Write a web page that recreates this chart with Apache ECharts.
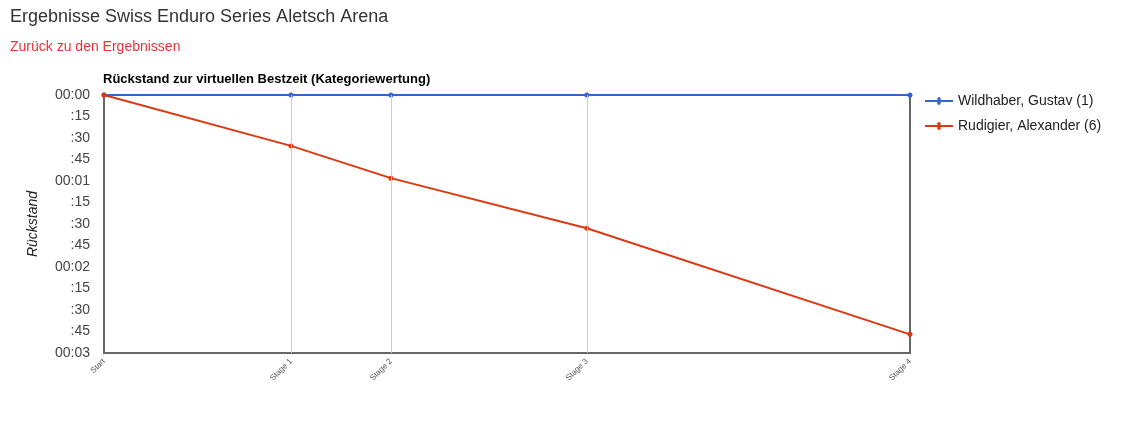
<!DOCTYPE html>
<html>
<head>
<meta charset="utf-8">
<script src="https://cdn.jsdelivr.net/npm/echarts@6/dist/echarts.min.js"></script>
<style>
  html, body { margin: 0; padding: 0; background: #fff; }
  #chart { width: 1128px; height: 432px; }
</style>
</head>
<body>
<div id="chart"></div>
<script>
// Etappen und ihre Position auf der x-Achse (ungleich verteilt)
const stages = ['Start', 'Stage 1', 'Stage 2', 'Stage 3', 'Stage 4']
const stagePos = [0, 23.2, 35.6, 59.9, 100]

// Rückstand in Sekunden
const wildhaber = [0, 0, 0, 0, 0]
const rudigier = [0, 35.5, 58, 93, 167]

function fmtTime(s) {
  if (s % 60 === 0) return '00:0' + (s / 60)
  return ':' + (s % 60)
}

const chart = echarts.init(document.getElementById('chart'))
chart.setOption({
  animation: false,
  textStyle: { fontFamily: 'Liberation Sans, Arial, sans-serif' },
  title: [
    { text: 'Ergebnisse Swiss Enduro Series Aletsch Arena', left: 10, top: 8, padding: 0,
      textStyle: { fontSize: 18, fontWeight: 'normal', color: '#333' } },
    { text: 'Zurück zu den Ergebnissen', left: 10, top: 40, padding: 0,
      textStyle: { fontSize: 14, fontWeight: 'normal', color: '#e8333a' } },
    { text: 'Rückstand zur virtuellen Bestzeit (Kategoriewertung)', left: 103, top: 73, padding: 0,
      textStyle: { fontSize: 13, fontWeight: 'bold', color: '#000' } },
  ],
  legend: {
    orient: 'vertical', left: 925, top: 94, padding: 0, itemGap: 11, itemWidth: 28, itemHeight: 14,
    icon: 'path://M0,6 L12.5,6 A1.8,1.8 0 1 1 15.5,6 L28,6 L28,8 L15.5,8 A1.8,1.8 0 1 1 12.5,8 L0,8 Z',
    textStyle: { fontSize: 14, color: '#222' },
    data: ['Wildhaber, Gustav (1)', 'Rudigier, Alexander (6)'],
  },
  grid: { left: 104, top: 95, width: 806, height: 258, show: true, borderColor: '#666', borderWidth: 2 },
  xAxis: {
    type: 'value', min: 0, max: 100,
    axisLine: { show: false },
    axisTick: { show: false },
    splitLine: { show: false },
    axisLabel: {
      customValues: stagePos, rotate: 45, fontSize: 8, color: '#555', margin: 7,
      formatter: v => stages[stagePos.indexOf(v)] || '',
    },
  },
  yAxis: {
    type: 'value', inverse: true, min: 0, max: 180, interval: 15,
    name: 'Rückstand', nameLocation: 'middle', nameGap: 64,
    nameTextStyle: { fontSize: 14, fontStyle: 'italic', color: '#222' },
    axisLine: { show: false },
    axisTick: { show: false },
    splitLine: { show: false },
    axisLabel: { fontSize: 14, color: '#444', margin: 14, formatter: fmtTime },
  },
  series: [
    {
      name: 'grid', type: 'line', data: [], z: 1, silent: true,
      markLine: {
        silent: true, symbol: 'none', label: { show: false },
        lineStyle: { color: '#ccc', width: 1, type: 'solid' },
        data: stagePos.slice(1, 4).map(v => ({ xAxis: v })),
      },
    },
    {
      name: 'Wildhaber, Gustav (1)', type: 'line', z: 3,
      data: stagePos.map((x, i) => [x, wildhaber[i]]),
      symbol: 'circle', symbolSize: 5,
      lineStyle: { width: 2, color: '#3366cc' }, itemStyle: { color: '#3366cc' },
    },
    {
      name: 'Rudigier, Alexander (6)', type: 'line', z: 4,
      data: stagePos.map((x, i) => [x, rudigier[i]]),
      symbol: 'circle', symbolSize: 5,
      lineStyle: { width: 2, color: '#dc3912' }, itemStyle: { color: '#dc3912' },
    },
  ],
})
</script>
</body>
</html>
